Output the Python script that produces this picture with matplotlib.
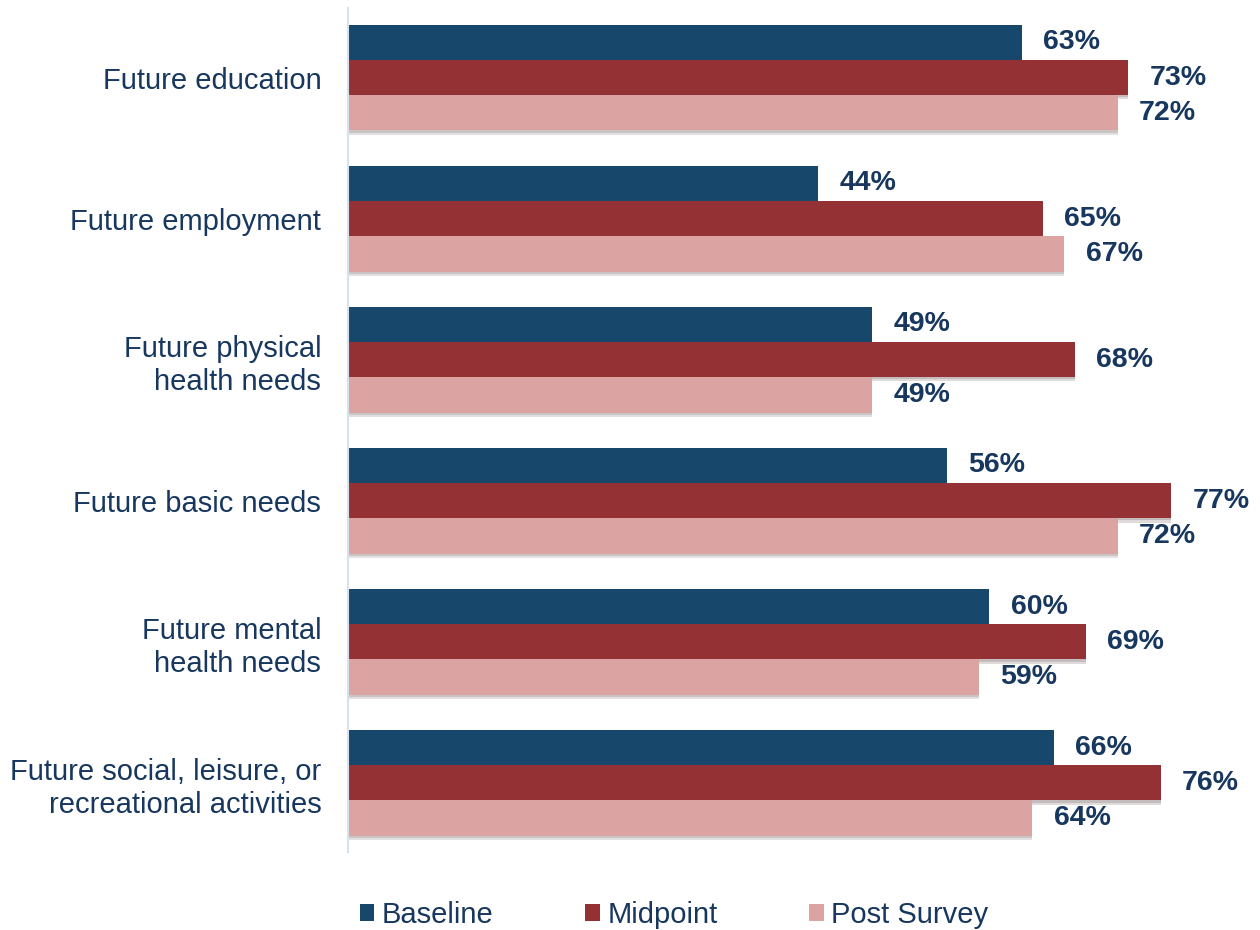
import matplotlib.pyplot as plt
import matplotlib.patheffects as pe
from matplotlib.patches import Patch
import numpy as np

plt.rcParams['font.family'] = ['Liberation Sans', 'DejaVu Sans']

categories = [
    'Future education',
    'Future employment',
    'Future physical\nhealth needs',
    'Future basic needs',
    'Future mental\nhealth needs',
    'Future social, leisure, or\nrecreational activities',
]
series_names = ['Baseline', 'Midpoint', 'Post Survey']
baseline = [63, 44, 49, 56, 60, 66]
midpoint = [73, 65, 68, 77, 69, 76]
post_survey = [72, 67, 49, 72, 59, 64]

colors = ['#17476a', '#943134', '#dba4a3']
text_color = '#17375e'

fig = plt.figure(figsize=(12.6, 9.3), dpi=100)
ax = fig.add_axes([0.276, 0.0839, 0.724, 0.9075])

y = np.arange(len(categories))
h = 0.25
# soft drop shadow under each bar
shadow = [pe.SimplePatchShadow(offset=(0, -3), alpha=0.15),
          pe.SimplePatchShadow(offset=(0, -1.5), alpha=0.15), pe.Normal()]

for k, vals in enumerate([baseline, midpoint, post_survey]):
    pos = y + (k - 1) * h
    bars = ax.barh(pos, vals, height=h, color=colors[k], label=series_names[k])
    for b in bars:
        b.set_path_effects(shadow)
    for p, v in zip(pos, vals):
        ax.text(v + 2, p, f'{v}%', va='center', ha='left', fontsize=20.5,
                fontweight='bold', color=text_color)

ax.set_xlim(0, 85.3)
ax.set_ylim(5.49, -0.493)
ax.set_yticks(y)
ax.set_yticklabels(categories, fontsize=21, color=text_color, linespacing=1.25)
ax.tick_params(axis='y', length=0, pad=19)
ax.set_xticks([])
for s in ['top', 'right', 'bottom']:
    ax.spines[s].set_visible(False)
ax.spines['left'].set_color('#d5e1ef')
ax.spines['left'].set_linewidth(1.5)

handles = [Patch(facecolor=c, label=n) for c, n in zip(colors, series_names)]
fig.legend(handles=handles, loc='center', bbox_to_anchor=(674 / 1260, 1 - 915 / 930),
           ncol=3, frameon=False, fontsize=21, handlelength=0.5, handleheight=0.5,
           handletextpad=0.25, columnspacing=3.15, labelcolor=text_color)

fig.savefig('out.png', dpi=100)
